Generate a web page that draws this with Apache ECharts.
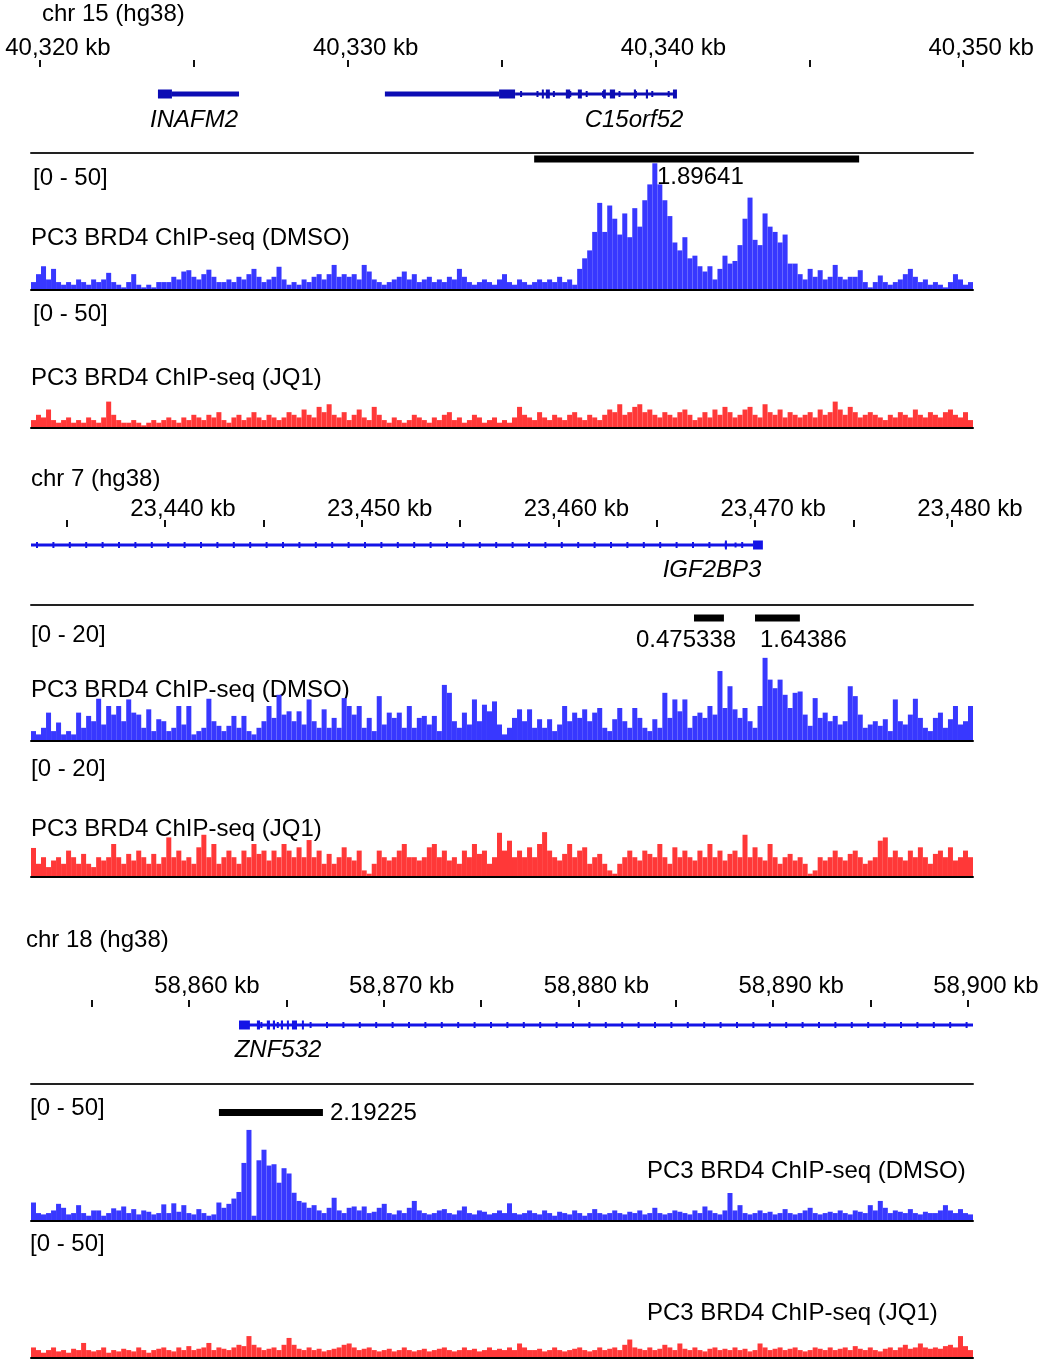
<!DOCTYPE html>
<html><head><meta charset="utf-8">
<script src="https://cdn.jsdelivr.net/npm/echarts@6/dist/echarts.min.js"></script>
<style>html,body{margin:0;padding:0;background:#fff}#c{width:1038px;height:1361px}</style>
</head><body><div id="c"></div>
<script>
// ---------------- DATA ----------------
// visible genomic windows (kb)
const chr15View = [40319.71, 40350.32];
const chr7View = [23433.19, 23481.07];
const chr18View = [58851.89, 58900.26];
// ruler ticks / labels (kb)
const chr15Ticks = [40320, 40325, 40330, 40335, 40340, 40345, 40350];
const chr15TickLabels = [40320, 40330, 40340, 40350];
const chr7Ticks = [23435, 23440, 23445, 23450, 23455, 23460, 23465, 23470, 23475, 23480];
const chr7TickLabels = [23440, 23450, 23460, 23470, 23480];
const chr18Ticks = [58855, 58860, 58865, 58870, 58875, 58880, 58885, 58890, 58895, 58900];
const chr18TickLabels = [58860, 58870, 58880, 58890, 58900];
// gene models: [start kb, end kb, kind] kind 0 = intron line, 1 = UTR, 2 = coding exon
const chr15Genes = [
  [40323.835, 40324.29, 2], [40324.29, 40326.47, 1],
  [40331.21, 40334.92, 1], [40334.92, 40335.44, 2], [40335.44, 40340.57, 0],
  [40336.31, 40336.37, 2], [40336.44, 40336.57, 2], [40337.09, 40337.23, 2], [40337.48, 40337.61, 2],
  [40338.30, 40338.39, 2], [40338.52, 40338.69, 2], [40339.30, 40339.37, 2], [40339.69, 40339.76, 2],
  [40340.57, 40340.70, 2]
];
const chr7Genes = [
  [23310.2, 23469.89, 0], [23468.46, 23468.56, 2], [23468.95, 23469.02, 1], [23469.89, 23470.39, 2]
];
const chr18Genes = [
  [58862.57, 58955.0, 0], [58862.57, 58863.13, 2], [58863.49, 58863.65, 2], [58864.00, 58864.16, 2],
  [58864.31, 58864.42, 2], [58864.72, 58864.83, 2], [58865.03, 58865.13, 2], [58865.29, 58865.55, 2],
  [58865.80, 58865.90, 2]
];
const geneNames = ['INAFM2', 'C15orf52', 'IGF2BP3', 'ZNF532'];
// peak features: [start kb, end kb, score]
const chr15Peaks = [[40336.06, 40346.62, 1.89641]];
const chr7Peaks = [[23466.89, 23468.41, 0.475338], [23469.99, 23472.27, 1.64386]];
const chr18Peaks = [[58861.54, 58866.88, 2.19225]];
// track names & ranges
const trackNames = ['PC3 BRD4 ChIP-seq (DMSO)', 'PC3 BRD4 ChIP-seq (JQ1)'];
const chr15Range = [0, 50];
const chr7Range = [0, 20];
const chr18Range = [0, 50];
// coverage signal, 188 bins across each window
const chr15DMSO = [
  3,6,9,4,8,3,2,3,2,4,3,2,4,3,4,6.5,3,2,1,3,
  6,2,1,2,1,3,3,3,5,4,7,7.5,5,4,6,7.7,5,3,3,4,
  3,5,4,6,8,5,3,4,5,8.8,4,2,3,2,4,3,5,6,4,6,
  9.5,5,6,5,6,4,9.5,7,4,3,2,3,4,5,7,4,6,3,4,5,
  3,4,3,5,4,8,5,3,2,3,4,3,2,4,6,3,2,4,3,2,
  3,4,3,4,3,5,3,4,2,8,12,15,22,33,22,32,27,21,29,20,
  31,24,34,40,48,40,34,28,18,15,20,12,13,9,7,9,4,8,13,10,
  11,17,27,35,19,17,29,24,22,18,21,10,10,6,4,8,5,7.5,4,5,
  9.5,5,4,5,5,7.5,3,1,3,5.5,3,2,3,4,6,8,5,3,4,2,
  3,2,1,3,6,4,2,3
];
const chr15JQ1 = [
  3,5,4,7,3,2,3,4,2,3,2,4,3,2,
  4,10,5,3,2,2,3,
  2,1,2,3,2,3,4,3,2,4,3,5,4,
  3,5,4,6,3,2,4,5,3,4,6,4,3,5,4,3,4,6,5,4,
  7,5,4,8,6,9,5,4,6,3,5,7,4,3,8,5,3,2,4,3,
  2,3,5,4,3,2,4,3,5,6,3,4,2,3,5,4,2,3,4,2,
  3,2,4,8,5,4,3,6,4,3,5,4,3,5,6,4,3,5,4,3,
  5,7,6,9,5,6,8,9,6,7,5,4,6,5,4,6,7,5,3,4,
  6,4,7,5,8,6,4,5,7,8,5,4,9,6,5,7,4,6,5,4,
  5,6,4,7,5,6,10,7,5,8,6,4,5,6,5,4,3,5,4,6,
  5,4,7,5,4,6,5,4,6,7,5,4,6,3
];
const chr7DMSO = [
  1.5,1,2,4.3,1.5,2.8,1,1.5,1,4.3,2,3.8,3,6.4,2.5,5.3,4,5.3,3,6.3,
  4.3,4,2,4.8,1.5,3.3,3,1.5,2,5.3,2.5,5.3,1,1.5,2,6.4,3,2.3,1.5,2.3,
  3.8,2,3.8,1.5,1,2,3,5.3,3.5,7,4,4.5,3,4.5,2.5,6.3,3,2,4.8,2,
  3.5,2,6.5,5.3,4,5.3,2,3.5,1.5,6.8,2.5,4.3,3.5,4.3,2,5.3,2,3.5,3.8,2.5,
  3.8,1.5,8.5,7.3,3,2,4.3,2.5,6.3,3,5.5,4.5,6,2.5,1,2,3.5,4.8,3,4.8,
  2,3.3,2,3.3,1.5,2.5,5.3,3,4.3,3.5,4.8,3,4.3,5,2,1.5,3.3,5,3,2,
  5,3.5,2,1.5,3.3,2,7.3,3.5,6.3,4.5,6.3,2,3.8,4.3,3.5,5.3,4,10.6,5,8.3,
  4.8,3.5,5,3,2,5.3,12.6,9.3,8,9.3,7,5,7.3,7.5,4,2.3,6.5,3.5,4.3,3,
  3.8,2.5,3,8.3,6.8,4,2,2.5,3,2.3,3.3,1.5,6.3,3,2.5,4,6.4,3.5,2,1.5,
  3.5,4.3,2,3.3,5.3,2.5,3,5.3
];
const chr7JQ1 = [
  4.4,2,3,1.5,2.5,3,2,4,3,2,3.5,2,1.5,3,2.5,3,5,3,2,3.5,
  2.5,4,3,2,3.5,2,3,6,3,4,2.5,3,2,4.5,6.4,3,5,2,3,4,
  3,2,4,3,5,3.5,4,2.5,4,3,5,4,3,4.5,3,5.6,3,4,2,3.5,
  2,3,4.5,3,2.5,4,1,0.5,2,4,3,2.5,3,4,5,3,3,2.5,3,4.5,
  5,3,4,2.5,3,2,4,3,5,3.5,4,2,3,6.7,4,5.5,3,4,3,4.5,
  3,5,6.8,4,3,2.5,3.5,5,3,4,4.5,2,3,3.5,2,1,0.5,2,3,4,
  3,2.5,4,3.5,3,5,3,2,4.5,3,4,3,2.5,4,3,5,3,4,2.5,3.5,
  4,3,6.4,3,4.5,3,2.5,5,3,2,3,3.5,2.5,3,2,0.5,1,3,2.5,3,
  4,3,2.5,3.5,4,3,2,2.5,3,5.5,6,3,4,3,2.5,4,3,4.5,3,2,
  3.5,4,3,4.5,2.5,3,4,3
];
const chr18DMSO = [
  7,3,2.5,3,4,6.5,5,2.5,3,6,3,2,4,4,2,3,4.8,4,5.5,3,
  4.5,2.5,4,3.5,2.5,3,6.3,3,6.7,3.5,6,3,2.5,4.5,3,2,2.5,7,5,6.5,
  8.5,11,22,34.5,2,23,27,21,21.5,14.5,20,18,10.7,7.6,7,5,6,4,3,5,
  8.8,4,3,5,5.5,4,5.5,3,3.5,5,6.5,3,2.5,4,3,5,7.6,4,3,2.5,
  3,4,4.5,3,2.5,4,5.5,3,2.5,4,3.5,2.5,3,4,3,6.7,3,2.5,3,4,
  3,2.5,4,3,2,3.5,3,2.5,4,3,2,3,4.5,3,2.5,3,4,3,2.5,3.5,
  3,4,2.5,3,5,3,2.5,3,4,3.5,3,2.5,4,3,5.5,4,3,2.5,4,10.6,
  4,6,3,2.5,3,4,3,3.5,2.5,3,4.5,3,2.5,3,4,5,3,2.5,3,3.5,
  3,4,3,2.5,4,3.5,3,6,4,7.6,5,3,4,3.5,3,4.5,3,2.5,3.5,3,
  3,4,6,4,3,4.5,3,2.5
];
const chr18JQ1 = [
  4,3,2,3,4,2.5,3,2,3.5,3,5.7,3,2.5,3,4,2,3,2.5,3.5,3,
  2.5,4,3,2,3,3.5,4,3,2.5,4,3,4.5,3,3.5,4,5.7,3,4,3.5,3,
  4,5,4.5,8.3,5,4,3,3.5,4,3,5,7.6,5,3.5,3,4,3,3.5,2.5,3,
  3.5,4,5,5.5,4,3,3.5,4,3,2.5,3,3.5,2.5,3,4,3,2.5,3,3.5,2.5,
  3,3.5,4,3,2.5,3,4,3,3.5,2.5,3,4,3,3.5,3,4,3,5.5,4,3,
  3,3.5,2.5,3,4,3,2.5,3,3.5,4,3,2.5,3,4,3,3.5,4,3,5,7,
  4,3.5,3,4,3,3.5,5,4,3,5.5,3.5,3,4,3,2.5,3.5,4,3,3.5,3,
  4,3,3.5,2.5,3,5.5,4,3,3.5,4,3,3.5,4,3,2.5,3,4,3.5,3,4,
  3,3.5,4,3,4.5,3.5,3,4,3,2.5,3.5,4,3,4,5,3.5,4,5.5,4,3.5,
  4,3.5,4.5,5,4,8.3,4.5,3
];

// ---------------- CHART ----------------
const FONT = "'Liberation Sans', Arial, Helvetica, sans-serif";
const BLUE = '#3838ff', RED = '#ff3838';
const grids = [], xAxes = [], yAxes = [], series = [], graphics = [];
function fmtKb(v) { return String(Math.round(v)).replace(/\B(?=(\d{3})+(?!\d))/g, ',') + ' kb'; }
function addGrid(top, height) {
  grids.push({ left: 31, width: 942, top: top, height: height, containLabel: false, outerBoundsMode: 'none' });
  return grids.length - 1;
}
function addRuler(axisY, view, ticks, labels, margin) {
  const g = addGrid(axisY, 1);
  xAxes.push({ gridIndex: g, type: 'value', position: 'top', min: view[0], max: view[1],
    axisLine: { show: false, onZero: false }, splitLine: { show: false },
    axisTick: { show: true, length: 7, customValues: ticks, lineStyle: { color: '#111', width: 2 } },
    axisLabel: { show: true, customValues: labels, formatter: fmtKb, margin: margin, padding: [0, 0, 0, 36],
      fontSize: 24, fontFamily: FONT, color: '#000', hideOverlap: false } });
  yAxes.push({ gridIndex: g, type: 'value', show: false });
}
function geneRender(color) {
  return function (params, api) {
    const s = api.value(0), e = api.value(1), kind = api.value(2);
    const p1 = api.coord([s, 0.5]), p2 = api.coord([e, 0.5]);
    const cs = params.coordSys;
    const x1 = Math.max(p1[0], cs.x), x2 = Math.min(p2[0], cs.x + cs.width);
    if (x2 <= x1) return null;
    const y = p1[1];
    const h = kind === 2 ? 9 : (kind === 1 ? 5 : 3);
    const children = [{ type: 'rect', shape: { x: x1, y: y - h / 2, width: Math.max(x2 - x1, 2), height: h }, style: { fill: color } }];
    if (kind === 0) {
      for (let x = x1 + 6; x < x2 - 3; x += 16.4) {
        children.push({ type: 'rect', shape: { x: x - 1, y: y - 3, width: 2, height: 6 }, style: { fill: color } });
      }
    }
    return { type: 'group', children: children };
  };
}
function addGenes(centerY, view, items, color) {
  const g = addGrid(centerY - 10, 20);
  xAxes.push({ gridIndex: g, type: 'value', min: view[0], max: view[1], show: false });
  yAxes.push({ gridIndex: g, type: 'value', min: 0, max: 1, show: false });
  series.push({ type: 'custom', xAxisIndex: xAxes.length - 1, yAxisIndex: yAxes.length - 1,
    data: items, renderItem: geneRender(color), silent: true, animation: false });
}
function peakRender(params, api) {
  const p1 = api.coord([api.value(0), 0.5]), p2 = api.coord([api.value(1), 0.5]);
  return { type: 'rect', shape: { x: p1[0], y: p1[1] - 3.5, width: p2[0] - p1[0], height: 7 }, style: { fill: '#000' } };
}
function addPeaks(top, height, view, items) {
  const g = addGrid(top, height);
  xAxes.push({ gridIndex: g, type: 'value', position: 'top', min: view[0], max: view[1],
    axisLine: { show: true, onZero: false, lineStyle: { color: '#222', width: 2 } }, axisTick: { show: false },
    axisLabel: { show: false }, splitLine: { show: false } });
  yAxes.push({ gridIndex: g, type: 'value', min: 0, max: 1, show: false });
  series.push({ type: 'custom', xAxisIndex: xAxes.length - 1, yAxisIndex: yAxes.length - 1,
    data: items, renderItem: peakRender, silent: true, animation: false });
}
function addSignal(top, values, range, color) {
  const g = addGrid(top, 132);
  xAxes.push({ gridIndex: g, type: 'category', data: values.map(function (_, i) { return i; }), z: 5,
    axisLine: { show: true, onZero: false, lineStyle: { color: '#000', width: 2 } },
    axisTick: { show: false }, axisLabel: { show: false }, splitLine: { show: false } });
  yAxes.push({ gridIndex: g, type: 'value', min: range[0], max: range[1], show: false });
  series.push({ type: 'bar', xAxisIndex: xAxes.length - 1, yAxisIndex: yAxes.length - 1,
    data: values, barCategoryGap: '0%', barGap: '0%', itemStyle: { color: color }, silent: true, animation: false });
}
function text(str, x, y, align, italic) {
  graphics.push({ type: 'text', x: x, y: y, silent: true,
    style: { text: str, fill: '#000', font: (italic ? 'italic ' : '') + '24px ' + FONT, align: align || 'left', verticalAlign: 'middle' } });
}
function rangeText(r) { return '[' + r[0] + ' - ' + r[1] + ']'; }

// Panel chr15
text('chr 15 (hg38)', 42, 14);
addRuler(67, chr15View, chr15Ticks, chr15TickLabels, 7);
addGenes(94, chr15View, chr15Genes, '#0c0cb4');
text(geneNames[0], 194, 120, 'center', true);
text(geneNames[1], 634, 120, 'center', true);
addPeaks(153, 12, chr15View, chr15Peaks);
text(String(chr15Peaks[0][2]), 657, 177.5);
addSignal(158, chr15DMSO, chr15Range, BLUE);
addSignal(296, chr15JQ1, chr15Range, RED);
text(rangeText(chr15Range), 33, 178.5);
text(trackNames[0], 31, 238);
text(rangeText(chr15Range), 33, 314);
text(trackNames[1], 31, 378);

// Panel chr7
text('chr 7 (hg38)', 31, 479.5);
addRuler(527, chr7View, chr7Ticks, chr7TickLabels, 6);
addGenes(545, chr7View, chr7Genes, '#1414e6');
text(geneNames[2], 712, 570, 'center', true);
addPeaks(605, 26, chr7View, chr7Peaks);
text(String(chr7Peaks[0][2]), 636, 640);
text(String(chr7Peaks[1][2]), 760, 640);
addSignal(609, chr7DMSO, chr7Range, BLUE);
addSignal(745, chr7JQ1, chr7Range, RED);
text(rangeText(chr7Range), 31, 635);
text(trackNames[0], 31, 690);
text(rangeText(chr7Range), 31, 769.5);
text(trackNames[1], 31, 829);

// Panel chr18
text('chr 18 (hg38)', 26, 940);
addRuler(1007, chr18View, chr18Ticks, chr18TickLabels, 9);
addGenes(1025, chr18View, chr18Genes, '#1414e6');
text(geneNames[3], 278, 1050, 'center', true);
addPeaks(1084, 57, chr18View, chr18Peaks);
text(String(chr18Peaks[0][2]), 330, 1113);
addSignal(1089, chr18DMSO, chr18Range, BLUE);
addSignal(1226, chr18JQ1, chr18Range, RED);
text(rangeText(chr18Range), 30, 1108);
text(trackNames[0], 647, 1171);
text(rangeText(chr18Range), 30, 1244);
text(trackNames[1], 647, 1313);

const chart = echarts.init(document.getElementById('c'), null, { renderer: 'canvas' });
chart.setOption({
  animation: false,
  backgroundColor: '#fff',
  grid: grids, xAxis: xAxes, yAxis: yAxes, series: series, graphic: graphics
});
</script>
</body></html>
